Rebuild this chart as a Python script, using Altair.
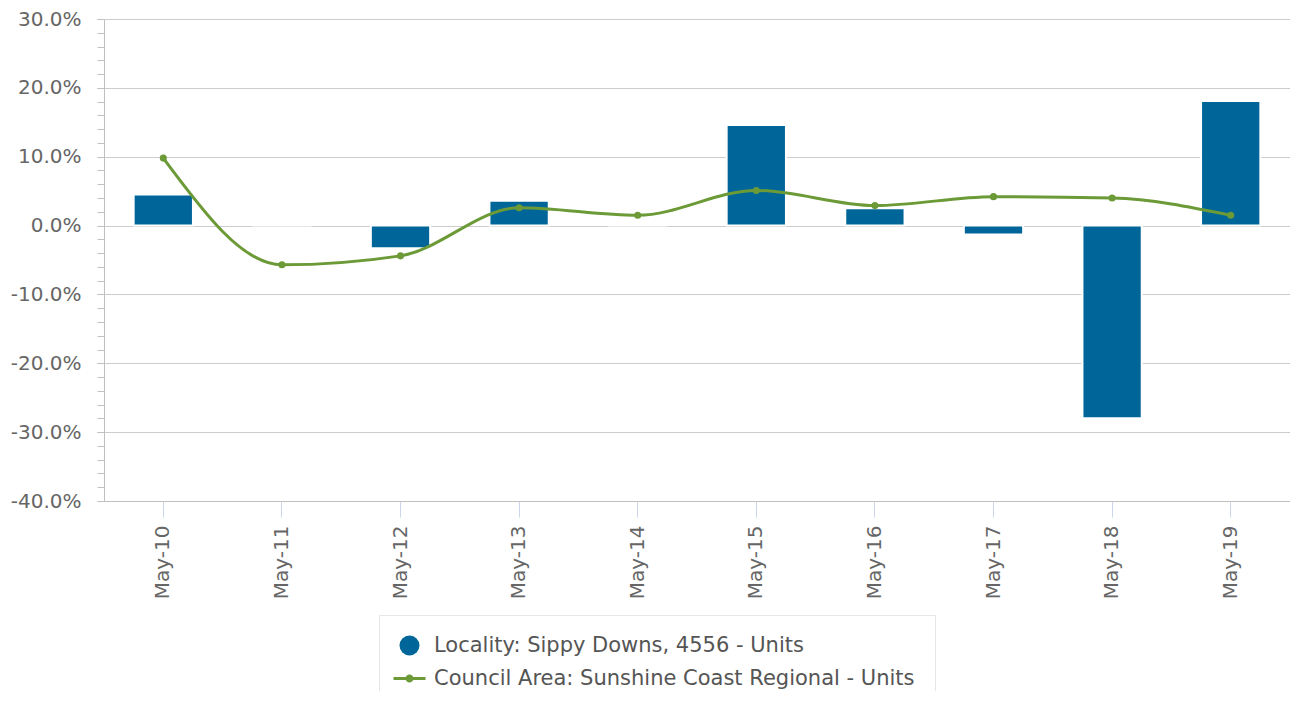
import altair as alt
import pandas as pd

categories = ["May-10", "May-11", "May-12", "May-13", "May-14",
              "May-15", "May-16", "May-17", "May-18", "May-19"]
locality = [0.045, 0.0, -0.033, 0.036, 0.0, 0.146, 0.025, -0.013, -0.280, 0.181]
council = [0.098, -0.057, -0.044, 0.026, 0.015, 0.051, 0.029, 0.042, 0.040, 0.015]
series_names = ["Locality: Sippy Downs, 4556 - Units",
                "Council Area: Sunshine Coast Regional - Units"]
major_ticks = [-0.4, -0.3, -0.2, -0.1, 0.0, 0.1, 0.2, 0.3]
minor_ticks = [-0.40, -0.38, -0.36, -0.34, -0.32, -0.30, -0.28, -0.26, -0.24, -0.22,
               -0.20, -0.18, -0.16, -0.14, -0.12, -0.10, -0.08, -0.06, -0.04, -0.02,
               0.00, 0.02, 0.04, 0.06, 0.08, 0.10, 0.12, 0.14, 0.16, 0.18,
               0.20, 0.22, 0.24, 0.26, 0.28, 0.30]

BLUE = "#006699"
GREEN = "#6b9a37"
FONT = "DejaVu Sans"
LINE_SYMBOL = ("M-1.6,-0.14L1.6,-0.14L1.6,0.14L-1.6,0.14Z "
               "M0.4,0A0.4,0.4,0,1,1,-0.4,0A0.4,0.4,0,1,1,0.4,0Z")

df = pd.DataFrame({"cat": categories, "loc": locality, "cou": council})
legend_df = pd.DataFrame({"series": series_names})

y_scale = alt.Scale(domain=[-0.4, 0.3], nice=False, zero=False)
x_axis = alt.Axis(labelAngle=270, labelFontSize=20, labelFont=FONT, labelColor="#666666",
                  tickSize=16, tickColor="#ccd6eb", tickWidth=1, labelPadding=8,
                  domainColor="#c0c0c0", domainWidth=1, grid=False, title=None)
x_scale = alt.Scale(paddingInner=0.5, paddingOuter=0.25)
y_axis = alt.Axis(values=major_ticks, format=".1%", labelFontSize=20, labelFont=FONT,
                  labelExpr="replace(datum.label, '\u2212', '-')",
                  labelColor="#666666", tickSize=7, tickColor="#c0c0c0",
                  domainColor="#c0c0c0", labelPadding=16, grid=True,
                  gridColor="#cccccc", gridWidth=1, title=None)


def xe():
    return alt.X("cat:N", sort=categories, title=None, scale=x_scale, axis=x_axis)


bars = alt.Chart(df).mark_bar(color=BLUE, stroke="white", strokeWidth=2).encode(
    x=xe(),
    y=alt.Y("loc:Q", scale=y_scale, title=None, axis=y_axis),
)

line = alt.Chart(df).mark_line(color=GREEN, strokeWidth=3, interpolate="monotone").encode(
    x=xe(),
    y=alt.Y("cou:Q", scale=y_scale, title=None, axis=y_axis),
)

points = alt.Chart(df).mark_point(color=GREEN, filled=True, size=50, opacity=1).encode(
    x=xe(),
    y=alt.Y("cou:Q", scale=y_scale, title=None, axis=y_axis),
)

legend_def = alt.Legend(
    title=None, orient="none", legendX=275, legendY=596,
    labelFontSize=21, labelFont=FONT, labelColor="#555555", labelLimit=1000,
    symbolSize=400, symbolStrokeWidth=0, rowPadding=11, labelOffset=14,
    padding=20, strokeColor="#e6e6e6", fillColor="white",
)

legend_layer = alt.Chart(legend_df).mark_point(filled=True, opacity=1).encode(
    color=alt.Color("series:N", scale=alt.Scale(domain=series_names, range=[BLUE, GREEN]),
                    legend=legend_def),
    shape=alt.Shape("series:N", scale=alt.Scale(domain=series_names, range=["circle", LINE_SYMBOL]),
                    legend=legend_def),
).transform_filter("false")

main = alt.layer(bars, line, points, legend_layer)

minor = alt.Chart(pd.DataFrame({"v": [0.0]})).mark_point(opacity=0).encode(
    y=alt.Y("v:Q", scale=alt.Scale(domain=[-0.4, 0.3], nice=False, zero=False), title=None,
            axis=alt.Axis(orient="left", values=minor_ticks, labels=False, grid=False,
                          domain=False, tickSize=7, tickColor="#c0c0c0")),
)

chart = alt.layer(main, minor).resolve_scale(y="independent").properties(
    width=1186, height=482,
    autosize=alt.AutoSizeParams(type="none"),
    padding={"left": 96, "top": 11, "right": 0, "bottom": 190},
).configure_view(stroke=None).configure(font=FONT)

chart.save("out.html", embed_options={"renderer": "svg", "actions": False})
